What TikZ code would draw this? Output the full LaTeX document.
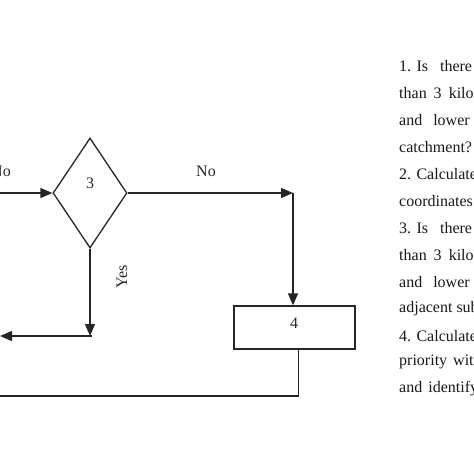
\documentclass[tikz,border=0pt]{standalone}
\usepackage{fontspec}
\setmainfont{Liberation Serif}
\usetikzlibrary{arrows.meta,shapes.geometric}
\begin{document}
\begin{tikzpicture}[x=1pt,y=-1pt,
  arr/.style={-{Triangle[length=12pt,width=10pt]}},
  ln/.style={line width=1.3pt,black!85},
  dia/.style={draw,ln,diamond,minimum width=74pt,minimum height=110pt,inner sep=0pt},
  boxx/.style={draw,ln,rectangle,minimum width=121pt,minimum height=43pt,inner sep=0pt},
  lbl/.style={font=\fontsize{16}{16}\selectfont,inner sep=0pt,text=black!85},
  side/.style={font=\fontsize{16}{16}\selectfont,inner sep=0pt,anchor=west,text=black!90}]
\useasboundingbox (0,0) rectangle (474,474);
\clip (0,0) rectangle (474,474);
\fill[white] (0,0) rectangle (474,474);
% nodes
\node[dia] (d3) at (90,193) {};
\node[lbl] (t3) at (90,183) {3};
\node[boxx] (b4) at (294.5,327.5) {};
\node[lbl] (t4) at (294,323) {4};
% coordinates
\coordinate (inL) at (0,193);
\coordinate (c1) at (293,193);
\coordinate (c2) at (90,336);
\coordinate (outY) at (0,336);
\coordinate (outB) at (0,396);
% connectors
\draw[ln,arr] (inL) -- (d3.west);
\draw[ln,arr] (d3.east) -- (c1);
\draw[ln,arr] (c1) -- (c1 |- b4.north);
\draw[ln,arr] (d3.south) -- (c2);
\draw[ln,arr] ([xshift=2pt]c2) -- (outY);
\draw[ln] ([xshift=4pt]b4.south) |- (outB);
% labels
\node[lbl,anchor=east] (noL) at (11,171) {No};
\node[lbl] (noR) at (206,171) {No};
\node[lbl,rotate=90] (yes) at (122,277) {Yes};
% side text
\node[side] (s1) at (399,66) {1. Is\hspace{12pt}there};
\node[side] (s2) at (399,93) {than\hspace{7pt}3\hspace{7pt}kilo};
\node[side] (s3) at (399,120) {and\hspace{11pt}lower};
\node[side] (s4) at (399,147) {catchment?};
\node[side] (s5) at (399,174) {2. Calculate};
\node[side] (s6) at (399,201) {coordinates};
\node[side] (s7) at (399,228) {3. Is\hspace{12pt}there};
\node[side] (s8) at (399,255) {than\hspace{7pt}3\hspace{7pt}kilo};
\node[side] (s9) at (399,282) {and\hspace{11pt}lower};
\node[side] (s10) at (399,309) {adjacent sub};
\node[side] (s11) at (399,336) {4. Calculate};
\node[side] (s12) at (399,362) {priority\hspace{6pt}with};
\node[side] (s13) at (399,389) {and\hspace{6pt}identify};
\end{tikzpicture}
\end{document}
